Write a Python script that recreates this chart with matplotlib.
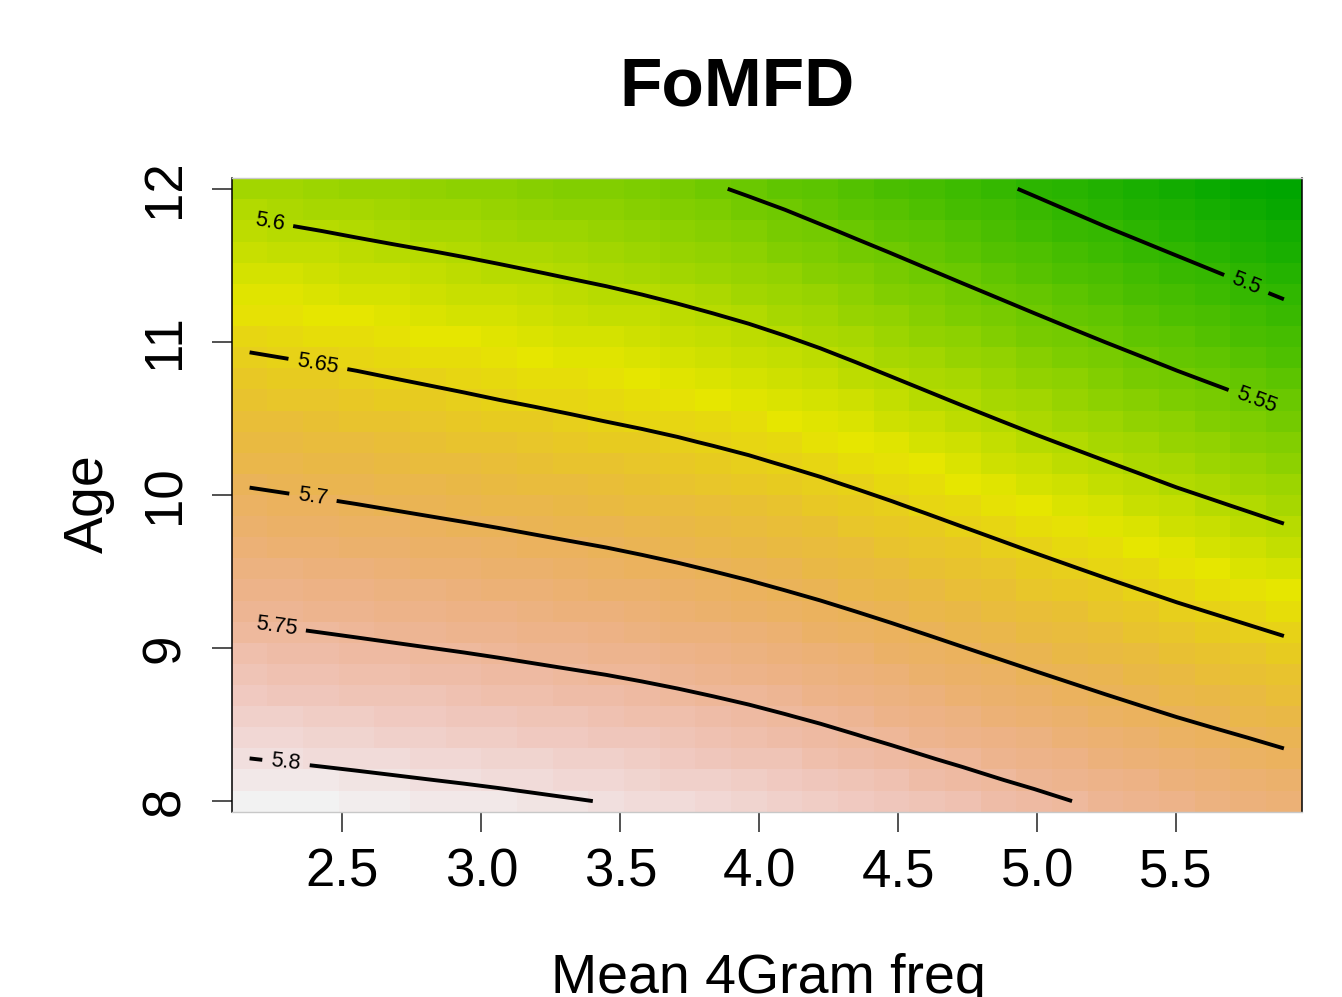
import numpy as np
import matplotlib
matplotlib.use("Agg")
import matplotlib.pyplot as plt
from matplotlib.colors import ListedColormap, hsv_to_rgb

plt.rcParams['font.family'] = ['Liberation Sans', 'DejaVu Sans']

# contour levels drawn on the plot
levels = [5.5, 5.55, 5.6, 5.65, 5.7, 5.75, 5.8]

# where each level crosses (x = Mean 4Gram freq, y = Age)
# 5.45 / 5.85 lie outside the frame, estimated from the spacing near the corners
c545_x = [2.166, 4.0, 5.0, 5.888]
c545_y = [14.3, 13.4, 12.72, 12.0]
c550_x = [2.166, 3.0, 3.886, 4.5, 4.75, 5.0, 5.25, 5.5, 5.889]
c550_y = [13.45, 13.15, 12.75, 12.33, 12.14, 11.945, 11.75, 11.565, 11.278]
c555_x = [2.166, 3.0, 3.5, 3.75, 4.0, 4.25, 4.5, 4.75, 5.0, 5.25, 5.5, 5.888]
c555_y = [12.62, 12.38, 12.22, 12.09, 11.93, 11.75, 11.56, 11.37, 11.18, 10.995, 10.815, 10.55]
c560_x = [2.166, 2.5, 3.0, 3.5, 3.75, 4.0, 4.25, 4.5, 4.75, 5.0, 5.25, 5.5, 5.889]
c560_y = [11.81, 11.70, 11.535, 11.345, 11.23, 11.10, 10.94, 10.755, 10.57, 10.39, 10.22, 10.05, 9.812]
c565_x = [2.166, 2.5, 3.0, 3.5, 3.75, 4.0, 4.25, 4.5, 4.75, 5.0, 5.25, 5.5, 5.889]
c565_y = [10.932, 10.83, 10.645, 10.46, 10.36, 10.24, 10.10, 9.945, 9.78, 9.615, 9.455, 9.30, 9.078]
c570_x = [2.166, 2.5, 3.0, 3.5, 3.75, 4.0, 4.25, 4.5, 4.75, 5.0, 5.25, 5.5, 5.889]
c570_y = [10.048, 9.956, 9.805, 9.64, 9.54, 9.425, 9.295, 9.15, 8.997, 8.845, 8.695, 8.55, 8.345]
c575_x = [2.166, 2.5, 3.0, 3.5, 3.75, 4.0, 4.25, 4.5, 4.75, 5.0, 5.25, 5.5, 5.888]
c575_y = [9.165, 9.082, 8.955, 8.81, 8.72, 8.615, 8.49, 8.35, 8.21, 8.07, 7.93, 7.79, 7.58]
c580_x = [2.166, 2.5, 3.0, 3.5, 4.0, 4.5, 5.0, 5.5, 5.888]
c580_y = [8.279, 8.21, 8.10, 7.975, 7.80, 7.60, 7.36, 7.12, 6.92]
c585_x = [2.166, 3.4, 5.888]
c585_y = [7.39, 7.2, 6.1]

xticks = [2.5, 3.0, 3.5, 4.0, 4.5, 5.0, 5.5]
xticklabels = ["2.5", "3.0", "3.5", "4.0", "4.5", "5.0", "5.5"]
yticks = [8, 9, 10, 11, 12]
yticklabels = ["8", "9", "10", "11", "12"]

# label spots on each contour
lab_x = [5.755, 5.79, 2.238, 2.412, 2.394, 2.262, 2.297]
lab_y = [11.389, 10.62, 11.785, 10.858, 9.984, 9.14, 8.251]

# 30 x 30 prediction grid (vis.gam default)
gx = np.linspace(2.166, 5.888, 30)
gy = np.linspace(8.0, 12.0, 30)

all_lev = [5.45] + levels + [5.85]
crossings = [(c545_x, c545_y), (c550_x, c550_y), (c555_x, c555_y), (c560_x, c560_y),
             (c565_x, c565_y), (c570_x, c570_y), (c575_x, c575_y), (c580_x, c580_y),
             (c585_x, c585_y)]

Z = np.zeros((len(gy), len(gx)))
for i, x in enumerate(gx):
    yc = np.array([np.interp(x, cx, cy) for cx, cy in crossings])
    Z[:, i] = np.interp(gy, yc[::-1], np.array(all_lev)[::-1])


def terrain_colors(n):
    # R's terrain.colors()
    k = n // 2
    h = np.r_[np.linspace(4 / 12, 2 / 12, k), np.linspace(2 / 12, 0, n - k + 1)[1:]]
    s = np.r_[np.linspace(1, 1, k), np.linspace(1, 0, n - k + 1)[1:]]
    v = np.r_[np.linspace(0.65, 0.9, k), np.linspace(0.9, 0.95, n - k + 1)[1:]]
    return hsv_to_rgb(np.column_stack([h, s, v]))


cmap = ListedColormap(terrain_colors(100))

fig = plt.figure(figsize=(13.42, 9.97), dpi=100)
ax = fig.add_axes([0.1727, 0.1859, 0.7973, 0.6353])

ax.pcolormesh(gx, gy, Z, cmap=cmap, vmin=Z.min(), vmax=Z.max(), shading='nearest')
cs = ax.contour(gx, gy, Z, levels=levels, colors='black', linewidths=2.8)
ax.clabel(cs, fmt=lambda v: f"{v:g}", fontsize=15.5, inline=True, inline_spacing=9,
          manual=list(zip(lab_x, lab_y)))

dx = (gx[1] - gx[0]) / 2
dy = (gy[1] - gy[0]) / 2
ax.set_xlim(gx[0] - dx, gx[-1] + dx)
ax.set_ylim(gy[0] - dy, gy[-1] + dy)

ax.set_xticks(xticks)
ax.set_xticklabels(xticklabels)
ax.set_yticks(yticks)
ax.set_yticklabels(yticklabels, rotation=90, va='center')
ax.tick_params(axis='both', length=14.4, width=1.1, labelsize=38, color='#222222')
ax.tick_params(axis='x', pad=11.5)
ax.tick_params(axis='y', pad=15.5)

for side in ['left', 'right']:
    ax.spines[side].set_color('black')
    ax.spines[side].set_linewidth(1.1)
for side in ['top', 'bottom']:
    ax.spines[side].set_color('#c8c8c8')
    ax.spines[side].set_linewidth(1.0)

fig.text(736.8 / 1342, 1 - 106 / 997, "FoMFD", fontsize=50, fontweight='bold',
         ha='center', va='baseline')
fig.text(768.5 / 1342, 1 - 992.5 / 997, "Mean 4Gram freq", fontsize=40,
         ha='center', va='baseline')
fig.text(103 / 1342, 1 - 504 / 997, "Age", fontsize=40, rotation=90,
         rotation_mode='anchor', ha='center', va='baseline')

fig.savefig("out.png", dpi=100)
